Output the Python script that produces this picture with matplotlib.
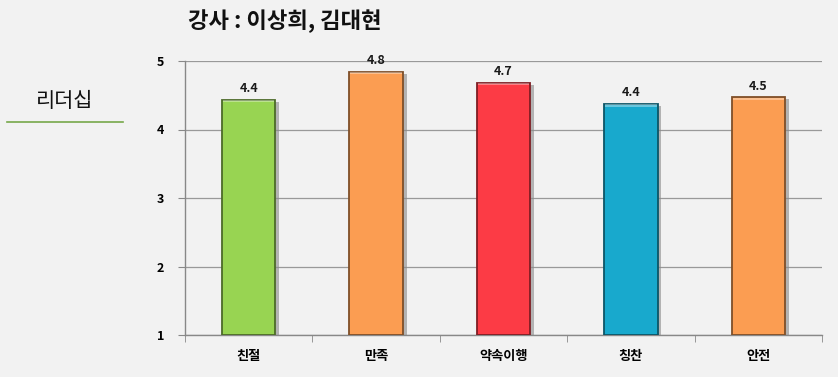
import matplotlib
matplotlib.use("Agg")
import matplotlib.pyplot as plt
import matplotlib.colors as mcolors
import numpy as np

plt.rcParams['font.family'] = ['Noto Sans CJK KR', 'DejaVu Sans']

categories = ['친절', '만족', '약속이행', '칭찬', '안전']
values = [4.43, 4.84, 4.68, 4.37, 4.47]
labels = ['4.4', '4.8', '4.7', '4.4', '4.5']
colors = ['#98d452', '#fb9d52', '#fc3b45', '#18a9cd', '#fb9d52']
yticks = [1, 2, 3, 4, 5]

W, H = 838, 377
fig = plt.figure(figsize=(W / 100, H / 100), dpi=100, facecolor='#f2f2f2')
ax = fig.add_axes([185 / W, 1 - 335 / H, (822 - 185) / W, (335 - 61) / H])
ax.set_facecolor('#f2f2f2')

x = np.arange(len(categories))
bw = 0.42
base = 1

def darker(c, f):
    r, g, b = mcolors.to_rgb(c)
    return (r * f, g * f, b * f)

for xi, v, c, lab in zip(x, values, colors, labels):
    # shadow
    ax.bar(xi + 0.03, v - base, width=bw, bottom=base - 0.03, color='#8a8a8a',
           alpha=0.6, zorder=2, linewidth=0)
    ax.bar(xi, v - base, width=bw, bottom=base, color=c, zorder=3,
           edgecolor=darker(c, 0.5), linewidth=1.3)
    # top highlight
    ax.bar(xi, 0.03, width=bw * 0.96, bottom=v - 0.035, color='white', alpha=0.35,
           zorder=4, linewidth=0)
    ax.text(xi, v + 0.07, lab, ha='center', va='bottom', fontsize=9,
            fontweight='bold', color='#1a1a1a', zorder=5)

ax.set_xlim(-0.5, len(categories) - 0.5)
ax.set_ylim(1, 5)
ax.set_yticks(yticks)
ax.set_yticklabels([str(t) for t in yticks], fontsize=9, fontweight='bold')
ax.set_xticks(x)
ax.set_xticklabels(categories, fontsize=9.5, fontweight='bold')
ax.set_xticks(np.arange(len(categories) + 1) - 0.5, minor=True)
ax.tick_params(axis='x', which='major', length=0, pad=10)
ax.tick_params(axis='x', which='minor', length=5, color='#888888', direction='out')
ax.tick_params(axis='y', length=5, color='#888888', pad=10)
ax.yaxis.grid(True, color='#999999', linewidth=0.9, zorder=0)
ax.set_axisbelow(True)
for s in ['top', 'right']:
    ax.spines[s].set_visible(False)
for s in ['left', 'bottom']:
    ax.spines[s].set_color('#888888')
    ax.spines[s].set_linewidth(1.0)

fig.text(188 / W, 1 - 21 / H, '강사 : 이상희, 김대현', fontsize=16, fontweight='bold',
         ha='left', va='center', color='#111111')
fig.text(65 / W, 1 - 101 / H, '리더십', fontsize=15, ha='center', va='center',
         color='#111111')
fig.add_artist(plt.Line2D([7 / W, 123 / W], [1 - 122 / H, 1 - 122 / H],
                          color='#77a84a', linewidth=1.2))

fig.savefig('out.png', dpi=100, facecolor=fig.get_facecolor())
